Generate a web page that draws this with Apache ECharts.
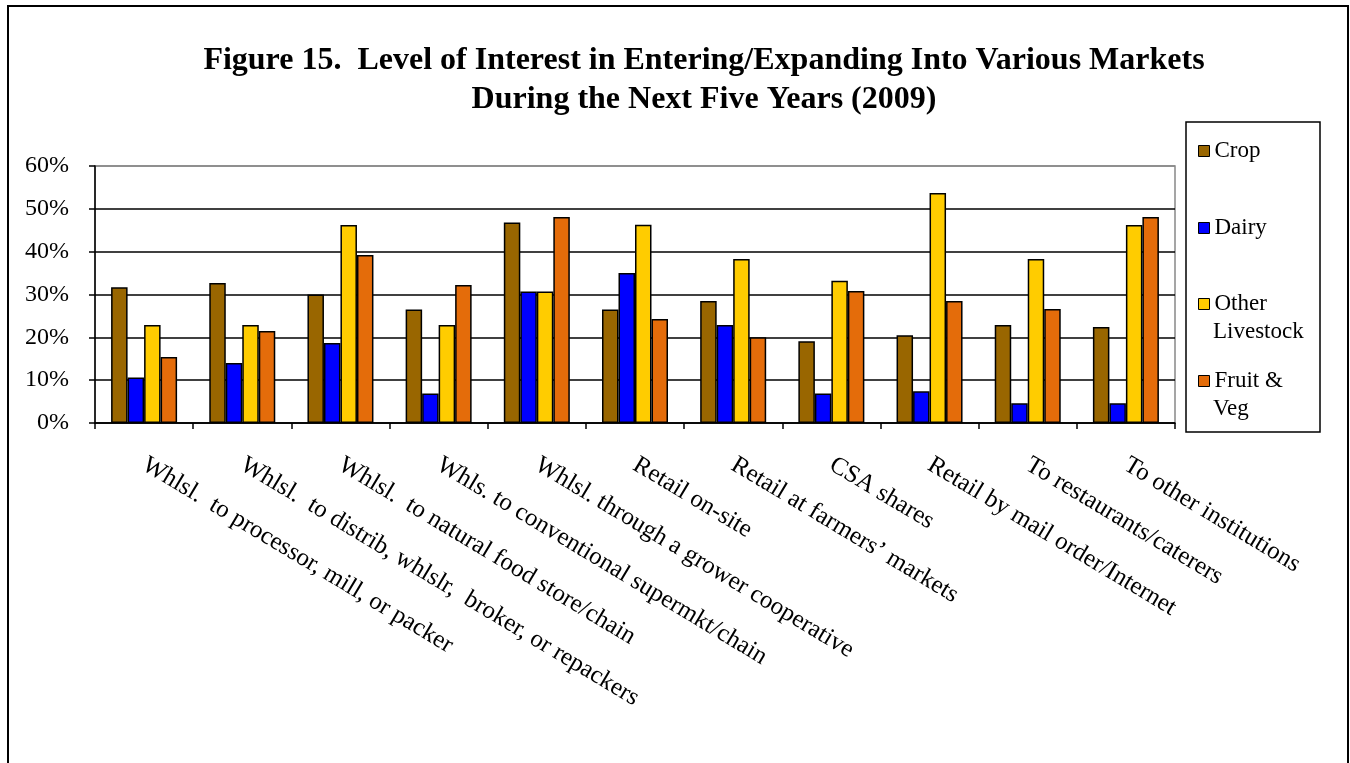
<!DOCTYPE html>
<html>
<head>
<meta charset="utf-8">
<script src="https://cdn.jsdelivr.net/npm/echarts@6/dist/echarts.min.js"></script>
<style>html,body{margin:0;padding:0;background:#fff}#c{width:1350px;height:763px}</style>
</head>
<body>
<div id="c"></div>
<script>
const categories = [
  "Whlsl.  to processor, mill, or packer",
  "Whlsl.  to distrib, whlslr,  broker, or repackers",
  "Whlsl.  to natural food store/chain",
  "Whls. to conventional supermkt/chain",
  "Whlsl. through a grower cooperative",
  "Retail on-site",
  "Retail at farmers\u2019 markets",
  "CSA shares",
  "Retail by mail order/Internet",
  "To restaurants/caterers",
  "To other institutions"
];
const crop           = [31.7, 32.7, 30.0, 26.5, 46.8, 26.5, 28.5, 19.1, 20.5, 22.9, 22.4];
const dairy          = [10.6, 14.0, 18.7,  6.9, 30.7, 35.0, 22.9,  6.9,  7.4,  4.6,  4.6];
const otherLivestock = [22.9, 22.9, 46.2, 22.9, 30.7, 46.3, 38.3, 33.2, 53.7, 38.3, 46.2];
const fruitVeg       = [15.4, 21.5, 39.2, 32.2, 48.1, 24.3, 20.0, 30.8, 28.5, 26.6, 48.1];
const yTicks = [0, 10, 20, 30, 40, 50, 60];
const seriesNames = ["Crop", "Dairy", "Other Livestock", "Fruit & Veg"];
const legendFirstLines = ["Crop", "Dairy", "Other", "Fruit &"];
const legendSecondLines = ["", "", "Livestock", "Veg"];
const colors = ["#996600", "#0000FF", "#FFCC00", "#E46C0A"];

const serif = "'Liberation Serif', 'Times New Roman', serif";
const chart = echarts.init(document.getElementById('c'));
const values = [crop, dairy, otherLivestock, fruitVeg];

const legendCenters = [151, 228, 304, 381];
const legends = seriesNames.map((n, i) => ({
  data: [n],
  left: 1198,
  top: legendCenters[i] - 14,
  orient: 'vertical',
  icon: 'rect',
  itemWidth: 11,
  itemHeight: 11,
  itemGap: 0,
  padding: 0,
  selectedMode: false,
  itemStyle: { borderColor: '#000', borderWidth: 1 },
  formatter: () => legendFirstLines[i],
  textStyle: { fontFamily: serif, fontSize: 23, color: '#000', lineHeight: 28 },
  itemTextGap: 4
}));

const secondLineTexts = legendSecondLines.map((t, i) => t ? ({
  type: 'text', left: 1213, top: legendCenters[i] + 28 - 14, silent: true,
  style: { text: t, font: "23px 'Liberation Serif', serif", fill: '#000', lineHeight: 28, textVerticalAlign: 'top' }
}) : null).filter(Boolean);

chart.setOption({
  animation: false,
  backgroundColor: '#fff',
  title: {
    text: "Figure 15.  Level of Interest in Entering/Expanding Into Various Markets\nDuring the Next Five Years (2009)",
    left: 699, top: 36, textAlign: 'center',
    textStyle: { fontFamily: serif, fontSize: 32, fontWeight: 'bold', color: '#000', lineHeight: 39 }
  },
  legend: legends,
  graphic: [
    { type: 'rect', shape: { x: 8, y: 6, width: 1340, height: 800 }, style: { fill: null, stroke: '#000', lineWidth: 2 }, silent: true },
    { type: 'rect', shape: { x: 1186, y: 122, width: 134, height: 310 }, style: { fill: null, stroke: '#000', lineWidth: 1.5 }, silent: true }
  ].concat(secondLineTexts),
  grid: { left: 95, right: 175, top: 166, bottom: 340, show: true, borderColor: '#888', borderWidth: 1.5, containLabel: false },
  xAxis: {
    type: 'category',
    data: categories,
    axisLine: { lineStyle: { color: '#000', width: 1.5 } },
    axisTick: { show: true, length: 6, lineStyle: { color: '#000', width: 1.5 } },
    axisLabel: {
      interval: 0, rotate: -31, margin: 40,
      fontFamily: serif, fontSize: 25, color: '#000'
    }
  },
  yAxis: {
    type: 'value', min: 0, max: 60, interval: 10,
    axisLine: { show: true, lineStyle: { color: '#000', width: 1.5 } },
    axisTick: { show: true, length: 6, lineStyle: { color: '#000', width: 1.5 } },
    axisLabel: { formatter: v => yTicks.includes(v) ? v + '%' : '', fontFamily: serif, fontSize: 24, color: '#000', margin: 26 },
    splitLine: { show: true, lineStyle: { color: ['#000', '#000', '#000', '#000', '#000', '#000', '#888'], width: 1.5 } }
  },
  series: seriesNames.map((n, i) => ({
    name: n,
    type: 'bar',
    data: values[i],
    barWidth: 16.5,
    barGap: '0%',
    itemStyle: { color: colors[i], borderColor: '#000', borderWidth: 1.5 }
  }))
});
</script>
</body>
</html>
